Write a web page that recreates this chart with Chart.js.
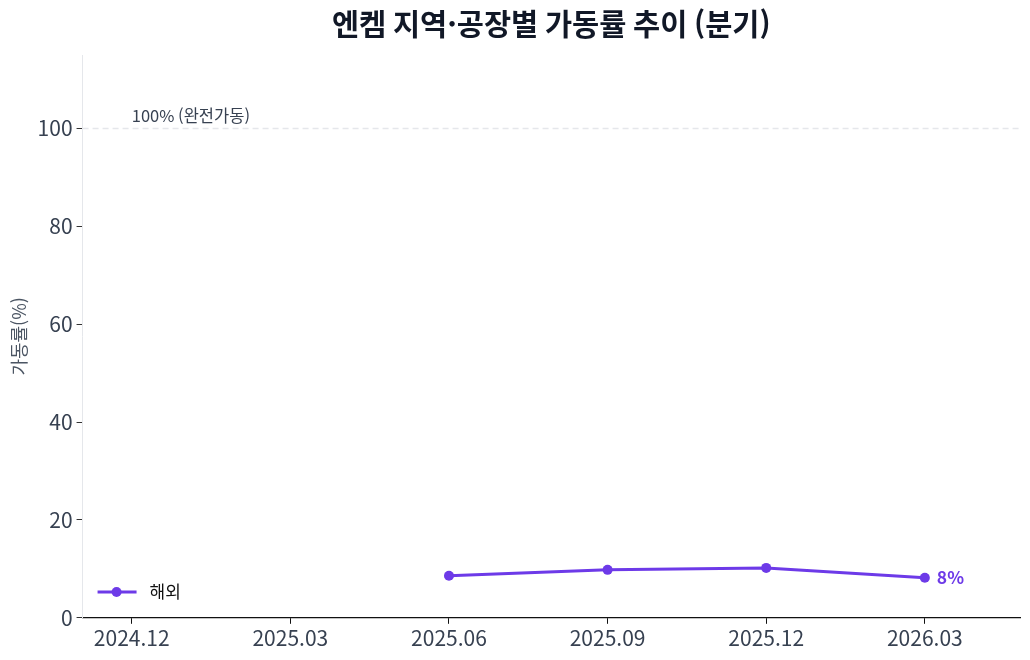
<!DOCTYPE html>
<html lang="ko">
<head>
<meta charset="utf-8">
<script src="https://cdn.jsdelivr.net/npm/chart.js@4.4.1/dist/chart.umd.min.js"></script>
<style>
  body { margin: 0; background: #fff; }
  #wrap { width: 1030px; height: 660px; position: relative; }
</style>
</head>
<body>
<div id="wrap"><canvas id="chart"></canvas></div>
<script>
const quarters = ['2024.12', '2025.03', '2025.06', '2025.09', '2025.12', '2026.03'];
const overseas = [null, null, 8.6, 9.8, 10.2, 8.2];
const seriesName = '해외';
const fullLine = 100;
const fullLabel = '100% (완전가동)';
const yTicks = [0, 20, 40, 60, 80, 100];
const chartTitle = '엔켐 지역·공장별 가동률 추이 (분기)';

const purple = '#6d3ae8';
const font = '"Noto Sans CJK KR", "Noto Sans", sans-serif';

const points = overseas.map(function(v, i) { return { x: i, y: v }; });

// title over the plot area, dashed 100% line, end label and the legend inside the plot
const extras = {
    id: 'extras',
    afterDatasetsDraw(chart) {
        const ctx = chart.ctx;
        const area = chart.chartArea;
        const xs = chart.scales.x;
        const ys = chart.scales.y;

        ctx.save();
        ctx.fillStyle = '#111827';
        ctx.font = 'bold 29.5px ' + font;
        ctx.textAlign = 'center';
        ctx.textBaseline = 'middle';
        ctx.fillText(chartTitle, (area.left + area.right) / 2, 24);

        const y100 = ys.getPixelForValue(fullLine);
        ctx.strokeStyle = '#e5e7eb';
        ctx.lineWidth = 1.5;
        ctx.setLineDash([6, 4]);
        ctx.beginPath();
        ctx.moveTo(area.left, y100);
        ctx.lineTo(area.right, y100);
        ctx.stroke();
        ctx.setLineDash([]);

        ctx.fillStyle = '#374151';
        ctx.font = '16.5px ' + font;
        ctx.textBaseline = 'bottom';
        ctx.textAlign = 'left';
        ctx.fillText(fullLabel, xs.getPixelForValue(0), y100 - 4);

        // last value label
        let last = overseas.length - 1;
        ctx.fillStyle = purple;
        ctx.font = 'bold 17.5px ' + font;
        ctx.textBaseline = 'middle';
        ctx.fillText(Math.round(overseas[last]) + '%', xs.getPixelForValue(last) + 12, ys.getPixelForValue(overseas[last]));

        // legend
        const ly = 592;
        const lx = area.left + 15;
        ctx.strokeStyle = purple;
        ctx.lineWidth = 3;
        ctx.beginPath();
        ctx.moveTo(lx, ly);
        ctx.lineTo(lx + 39, ly);
        ctx.stroke();
        ctx.fillStyle = purple;
        ctx.beginPath();
        ctx.arc(lx + 19, ly, 5, 0, Math.PI * 2);
        ctx.fill();
        ctx.fillStyle = '#111';
        ctx.font = '17px ' + font;
        ctx.fillText(seriesName, lx + 52, ly);
        ctx.restore();
    }
};

new Chart(document.getElementById('chart'), {
    type: 'line',
    data: {
        datasets: [{
            label: seriesName,
            data: points,
            borderColor: purple,
            backgroundColor: purple,
            borderWidth: 3,
            pointRadius: 5,
            pointBorderWidth: 0,
            pointHoverRadius: 5,
            spanGaps: false,
            tension: 0
        }]
    },
    options: {
        responsive: true,
        maintainAspectRatio: false,
        animation: false,
        layout: { padding: { top: 55, right: 10, left: 4, bottom: 7 } },
        plugins: {
            legend: { display: false },
            tooltip: { enabled: false },
            title: { display: false }
        },
        scales: {
            x: {
                type: 'linear',
                min: -0.31,
                max: 5.6,
                afterBuildTicks(axis) {
                    axis.ticks = quarters.map(function(q, i) { return { value: i }; });
                },
                ticks: {
                    color: '#374151',
                    font: { family: font, size: 21 },
                    padding: 2,
                    maxRotation: 0,
                    callback: function(v) { return quarters[v]; }
                },
                grid: { display: true, drawOnChartArea: false, drawTicks: true, tickLength: 6, color: '#111' },
                border: { display: true, color: '#111', width: 1.2 }
            },
            y: {
                min: 0,
                max: 115,
                afterBuildTicks(axis) {
                    axis.ticks = yTicks.map(function(v) { return { value: v }; });
                },
                ticks: {
                    color: '#374151',
                    font: { family: font, size: 21 },
                    padding: 4
                },
                grid: { display: true, drawOnChartArea: false, drawTicks: true, tickLength: 6, color: '#333' },
                border: { display: true, color: '#e5e7eb', width: 1 },
                title: {
                    display: true,
                    text: '가동률(%)',
                    color: '#4b5563',
                    font: { family: font, size: 18 },
                    padding: { bottom: 4 }
                }
            }
        }
    },
    plugins: [extras]
});
</script>
</body>
</html>
